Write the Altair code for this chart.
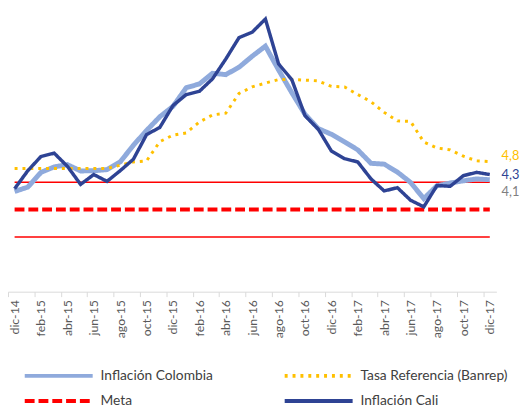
import json
import altair as alt
import pandas as pd

months = ["dic-14", "ene-15", "feb-15", "mar-15", "abr-15", "may-15", "jun-15", "jul-15",
          "ago-15", "sep-15", "oct-15", "nov-15", "dic-15", "ene-16", "feb-16", "mar-16",
          "abr-16", "may-16", "jun-16", "jul-16", "ago-16", "sep-16", "oct-16", "nov-16",
          "dic-16", "ene-17", "feb-17", "mar-17", "abr-17", "may-17", "jun-17", "jul-17",
          "ago-17", "sep-17", "oct-17", "nov-17", "dic-17"]

inflacion_colombia = [3.66, 3.82, 4.36, 4.56, 4.64, 4.41, 4.42, 4.46, 4.74, 5.35, 5.89, 6.39,
                      6.77, 7.45, 7.59, 7.98, 7.93, 8.20, 8.60, 8.97, 8.10, 7.27, 6.48, 5.96,
                      5.75, 5.47, 5.18, 4.69, 4.66, 4.37, 3.99, 3.40, 3.87, 3.97, 4.05, 4.12, 4.09]

tasa_referencia = [4.50, 4.50, 4.50, 4.50, 4.50, 4.50, 4.50, 4.50, 4.62, 4.74, 4.78, 5.48,
                   5.72, 5.80, 6.20, 6.46, 6.52, 7.24, 7.48, 7.62, 7.75, 7.75, 7.73, 7.70,
                   7.50, 7.48, 7.20, 6.94, 6.55, 6.24, 6.22, 5.47, 5.25, 5.18, 4.95, 4.78, 4.75]

inflacion_cali = [3.76, 4.42, 4.94, 5.06, 4.58, 3.92, 4.28, 4.03, 4.42, 4.84, 5.74, 6.00,
                  6.80, 7.20, 7.32, 7.78, 8.50, 9.28, 9.48, 9.96, 8.32, 7.75, 6.43, 5.94,
                  5.14, 4.86, 4.74, 4.12, 3.68, 3.80, 3.34, 3.10, 3.88, 3.85, 4.24, 4.36, 4.28]

meta = [3.0] * len(months)
rango_superior = [4.0] * len(months)
rango_inferior = [2.0] * len(months)

series_names = ["Inflación Colombia", "Tasa Referencia (Banrep)", "Meta", "Inflación Cali"]
series_values = [inflacion_colombia, tasa_referencia, meta, inflacion_cali]
series_colors = ["#8FAADC", "#FFC000", "#FF0000", "#2E4394"]
series_dash = [[1, 0], [3, 5], [10, 4], [1, 0]]
series_width = [5, 3, 4, 3.5]
# legend grid slot of each series: (column, row)
legend_slot = [(0, 0), (1, 0), (0, 1), (1, 1)]

end_labels = ["4,8", "4,3", "4,1"]
end_label_series = ["Tasa Referencia (Banrep)", "Inflación Cali", "Inflación Colombia"]
end_label_colors = ["#FFC000", "#2E4394", "#7F7F7F"]
end_label_dy = [-6, 1, 13]

FONT = "Lato"

rows = []
for name, vals in zip(series_names, series_values):
    for i, (m, v) in enumerate(zip(months, vals)):
        rows.append({"idx": i, "mes": m, "serie": name, "valor": v})
df = pd.DataFrame(rows)

rng_rows = []
for name, vals in [("sup", rango_superior), ("inf", rango_inferior)]:
    for i, v in enumerate(vals):
        rng_rows.append({"idx": i, "rango": name, "valor": v})
df_rng = pd.DataFrame(rng_rows)

n = len(months)
tick_vals = [i - 0.5 for i in range(0, n, 2)]
label_expr = json.dumps(months) + "[datum.value + 0.5]"
half_band = 496 / n / 2

x_enc = alt.X(
    "idx:Q",
    scale=alt.Scale(domain=[-0.5, n - 0.5], nice=False, zero=False),
    axis=alt.Axis(
        values=tick_vals,
        labelExpr=label_expr,
        labelOffset=half_band,
        labelAngle=270,
        labelOverlap=False,
        labelFont=FONT,
        labelFontSize=12.5,
        labelColor="#595959",
        labelPadding=3,
        tickColor="#D9D9D9",
        tickSize=5,
        domainColor="#D9D9D9",
        grid=False,
        title=None,
    ),
)
y_enc = alt.Y("valor:Q", scale=alt.Scale(domain=[0, 10], nice=False, zero=True), axis=None)

LEG_X = [15, 279]
LEG_Y = [327, 352.5]

rango = alt.Chart(df_rng).mark_line(color="#FF0000", strokeWidth=1.5).encode(
    x=x_enc, y=y_enc, detail="rango:N"
)

layers = [rango]
for name, col, dash, w, (cx, ry) in zip(series_names, series_colors, series_dash, series_width, legend_slot):
    legend = alt.Legend(
        title=None,
        orient="none",
        legendX=LEG_X[cx],
        legendY=LEG_Y[ry],
        symbolType="stroke",
        symbolSize=4761,
        symbolStrokeWidth=4,
        labelFont=FONT,
        labelFontSize=14,
        labelColor="#404040",
        labelOffset=6,
        labelLimit=400,
    )
    layers.append(
        alt.Chart(df).transform_filter(alt.datum.serie == name).mark_line(strokeWidth=w).encode(
            x=x_enc,
            y=y_enc,
            color=alt.Color("serie:N", scale=alt.Scale(domain=[name], range=[col]), legend=legend),
            strokeDash=alt.StrokeDash("serie:N", scale=alt.Scale(domain=[name], range=[dash]), legend=legend),
        )
    )

for lab, ser, col, dy in zip(end_labels, end_label_series, end_label_colors, end_label_dy):
    layers.append(
        alt.Chart(df).transform_filter((alt.datum.serie == ser) & (alt.datum.idx == n - 1))
        .mark_text(text=lab, color=col, font=FONT, fontSize=13, align="left", baseline="middle", dx=12, dy=dy)
        .encode(x=x_enc, y=y_enc)
    )

chart = alt.layer(*layers).resolve_scale(color="independent", strokeDash="independent").properties(
    width=496,
    height=278,
    autosize=alt.AutoSizeParams(type="none"),
    padding={"left": 0, "top": 7, "right": 25, "bottom": 114},
).configure_view(stroke=None)

chart.save("out.html", embed_options={"renderer": "svg", "actions": False})
